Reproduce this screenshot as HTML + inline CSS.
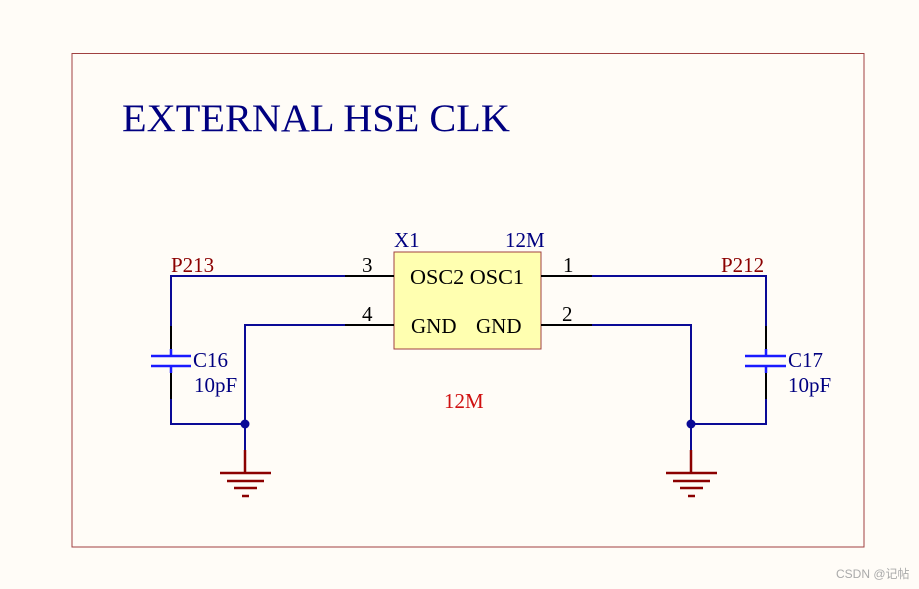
<!DOCTYPE html>
<html><head><style>html,body{margin:0;padding:0;background:#fffcf7;}svg{display:block}</style></head>
<body>
<svg width="919" height="589" xmlns="http://www.w3.org/2000/svg" font-family="Liberation Serif, serif">
<rect x="0" y="0" width="919" height="589" fill="#fffcf7"/>
<rect x="72" y="53.5" width="792" height="493.5" fill="none" stroke="#a04040" stroke-width="1"/>
<text x="122" y="131" font-size="39" fill="#000080" textLength="388" lengthAdjust="spacingAndGlyphs">EXTERNAL HSE CLK</text>

<!-- crystal box -->
<rect x="394" y="252" width="147" height="97" fill="#ffffb0" stroke="#a04040" stroke-width="1"/>
<text x="394" y="247" font-size="21" fill="#000080">X1</text>
<text x="505" y="247" font-size="21" fill="#000080">12M</text>
<text x="410" y="284" font-size="21" fill="#000" textLength="114" lengthAdjust="spacingAndGlyphs">OSC2 OSC1</text>
<text x="411" y="333" font-size="21" fill="#000">GND</text>
<text x="476" y="333" font-size="21" fill="#000">GND</text>
<text x="444" y="408" font-size="21" fill="#d01010">12M</text>

<!-- pins -->
<g stroke="#000" stroke-width="2">
<line x1="345" y1="276" x2="394" y2="276"/>
<line x1="345" y1="325" x2="394" y2="325"/>
<line x1="541" y1="276" x2="592" y2="276"/>
<line x1="541" y1="325" x2="592" y2="325"/>
<line x1="171" y1="326" x2="171" y2="349"/>
<line x1="171" y1="373" x2="171" y2="399"/>
<line x1="766" y1="326" x2="766" y2="349"/>
<line x1="766" y1="373" x2="766" y2="399"/>
</g>
<g font-size="21" fill="#000">
<text x="362" y="272">3</text><text x="362" y="321">4</text>
<text x="563" y="272">1</text><text x="562" y="321">2</text>
</g>

<!-- wires -->
<g stroke="#0a0a96" stroke-width="2" fill="none">
<polyline points="345,276 171,276 171,326"/>
<polyline points="171,399 171,424 245,424"/>
<polyline points="345,325 245,325 245,450"/>
<polyline points="592,276 766,276 766,326"/>
<polyline points="766,399 766,424 691,424"/>
<polyline points="592,325 691,325 691,450"/>
</g>
<circle cx="245" cy="424" r="4.5" fill="#0a0a96"/>
<circle cx="691" cy="424" r="4.5" fill="#0a0a96"/>

<!-- caps -->
<g stroke="#1a1aff" stroke-width="2.5">
<line x1="171" y1="349" x2="171" y2="356"/>
<line x1="171" y1="366" x2="171" y2="373"/>
<line x1="151" y1="356" x2="191" y2="356"/>
<line x1="151" y1="366" x2="191" y2="366"/>
<line x1="766" y1="349" x2="766" y2="356"/>
<line x1="766" y1="366" x2="766" y2="373"/>
<line x1="745" y1="356" x2="786" y2="356"/>
<line x1="745" y1="366" x2="786" y2="366"/>
</g>
<g font-size="21" fill="#000080">
<text x="193" y="367">C16</text><text x="194" y="392">10pF</text>
<text x="788" y="367">C17</text><text x="788" y="392">10pF</text>
</g>
<g font-size="21" fill="#8b0000">
<text x="171" y="272">P213</text>
<text x="721" y="272">P212</text>
</g>

<!-- grounds -->
<g stroke="#8b0000" stroke-width="2.5">
<line x1="245" y1="450" x2="245" y2="473"/>
<line x1="220" y1="473" x2="271" y2="473"/>
<line x1="227" y1="481" x2="264" y2="481"/>
<line x1="234" y1="488" x2="257" y2="488"/>
<line x1="242" y1="496" x2="249" y2="496"/>
<line x1="691" y1="450" x2="691" y2="473"/>
<line x1="666" y1="473" x2="717" y2="473"/>
<line x1="673" y1="481" x2="710" y2="481"/>
<line x1="680" y1="488" x2="703" y2="488"/>
<line x1="688" y1="496" x2="695" y2="496"/>
</g>
<text x="836" y="578" font-size="12" fill="#aaa" font-family="Liberation Sans, Noto Sans CJK SC, sans-serif">CSDN @记帖</text>
</svg>
</body></html>
